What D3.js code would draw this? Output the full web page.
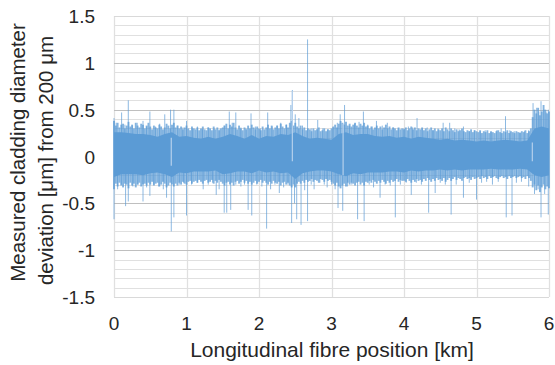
<!DOCTYPE html>
<html><head><meta charset="utf-8">
<script src="https://cdn.jsdelivr.net/npm/d3@7"></script>
<style>body{margin:0;background:#fff}svg{display:block}text{font-family:"Liberation Sans",Arial,sans-serif;fill:#262626}</style>
</head><body><svg id="c" width="555" height="365"></svg>
<script>
// ---- data ----
const xTicks = [0,1,2,3,4,5,6];
const xTickLabels = ["0","1","2","3","4","5","6"];
const yTicks = [-1.5,-1,-0.5,0,0.5,1,1.5];
const yTickLabels = ["-1.5","-1","-0.5","0","0.5","1","1.5"];
// dense core of the trace, one sample per 0.1 km
const bandStep = 0.1;
const bandHi = [0.26,0.26,0.25,0.24,0.24,0.23,0.21,0.24,0.26,0.21,0.22,0.20,0.19,0.21,0.19,0.21,0.24,0.22,0.19,0.23,0.19,0.22,0.21,0.24,0.23,0.26,0.22,0.19,0.20,0.19,0.18,0.24,0.26,0.23,0.24,0.24,0.22,0.21,0.22,0.20,0.21,0.19,0.21,0.20,0.19,0.18,0.19,0.17,0.18,0.17,0.16,0.17,0.16,0.17,0.18,0.17,0.16,0.17,0.30,0.32,0.30];
const bandLo = [-0.22,-0.19,-0.19,-0.19,-0.20,-0.18,-0.17,-0.19,-0.22,-0.17,-0.18,-0.16,-0.16,-0.16,-0.15,-0.19,-0.18,-0.16,-0.16,-0.18,-0.15,-0.17,-0.16,-0.18,-0.17,-0.24,-0.18,-0.16,-0.15,-0.15,-0.16,-0.19,-0.21,-0.18,-0.19,-0.17,-0.17,-0.17,-0.16,-0.16,-0.17,-0.15,-0.16,-0.15,-0.15,-0.14,-0.15,-0.14,-0.15,-0.14,-0.14,-0.14,-0.13,-0.14,-0.14,-0.14,-0.13,-0.14,-0.20,-0.22,-0.20];
// fuzzy fringe of the trace, one sample per 0.025 km
const fuzzStep = 0.025;
const fuzzHi = [0.38,0.33,0.36,0.31,0.34,0.35,0.30,0.33,0.37,0.32,0.34,0.30,0.36,0.33,0.31,0.35,0.34,0.30,0.33,0.36,
0.32,0.29,0.33,0.31,0.30,0.34,0.32,0.29,0.31,0.35,0.33,0.30,0.34,0.36,0.31,0.33,0.30,0.32,0.29,0.31,
0.33,0.30,0.28,0.32,0.30,0.29,0.31,0.28,0.30,0.32,0.29,0.28,0.31,0.30,0.28,0.32,0.29,0.31,0.28,0.30,
0.31,0.33,0.35,0.30,0.34,0.32,0.36,0.31,0.29,0.33,0.30,0.28,0.31,0.29,0.33,0.30,0.34,0.31,0.29,0.32,
0.30,0.28,0.32,0.29,0.31,0.34,0.30,0.33,0.29,0.31,0.33,0.30,0.35,0.32,0.30,0.34,0.31,0.36,0.38,0.33,
0.36,0.32,0.30,0.33,0.29,0.31,0.28,0.30,0.29,0.27,0.30,0.28,0.29,0.31,0.27,0.28,0.30,0.27,0.29,0.28,
0.30,0.32,0.34,0.31,0.35,0.38,0.36,0.34,0.37,0.33,0.35,0.32,0.34,0.36,0.33,0.31,0.35,0.33,0.36,0.32,
0.33,0.30,0.32,0.29,0.31,0.33,0.30,0.32,0.29,0.31,0.34,0.30,0.32,0.29,0.31,0.30,0.28,0.31,0.29,0.30,
0.29,0.31,0.28,0.30,0.32,0.29,0.31,0.28,0.30,0.29,0.31,0.28,0.30,0.27,0.29,0.31,0.28,0.30,0.27,0.29,
0.28,0.30,0.27,0.31,0.29,0.27,0.30,0.28,0.26,0.29,0.27,0.28,0.30,0.27,0.26,0.28,0.27,0.29,0.26,0.28,
0.27,0.26,0.28,0.25,0.27,0.26,0.28,0.25,0.27,0.26,0.25,0.27,0.28,0.26,0.25,0.27,0.26,0.28,0.25,0.27,
0.26,0.25,0.27,0.26,0.25,0.27,0.26,0.28,0.25,0.27,0.30,0.42,0.50,0.46,0.52,0.44,0.48,0.55,0.50,0.46,
0.48];
const fuzzLo = [-0.35,-0.29,-0.32,-0.28,-0.31,-0.33,-0.29,-0.30,-0.34,-0.28,-0.31,-0.29,-0.33,-0.30,-0.28,-0.32,-0.30,-0.29,-0.31,-0.28,
-0.30,-0.27,-0.31,-0.29,-0.28,-0.32,-0.30,-0.27,-0.29,-0.33,-0.31,-0.28,-0.30,-0.32,-0.29,-0.31,-0.28,-0.30,-0.27,-0.29,
-0.30,-0.27,-0.26,-0.29,-0.27,-0.26,-0.28,-0.25,-0.27,-0.29,-0.26,-0.25,-0.28,-0.27,-0.25,-0.29,-0.26,-0.28,-0.25,-0.27,
-0.29,-0.31,-0.28,-0.27,-0.30,-0.28,-0.31,-0.27,-0.26,-0.29,-0.27,-0.25,-0.28,-0.26,-0.29,-0.27,-0.30,-0.28,-0.26,-0.29,
-0.27,-0.25,-0.28,-0.26,-0.28,-0.30,-0.27,-0.29,-0.26,-0.28,-0.29,-0.27,-0.31,-0.28,-0.27,-0.30,-0.28,-0.31,-0.33,-0.30,
-0.33,-0.29,-0.27,-0.29,-0.26,-0.28,-0.25,-0.27,-0.26,-0.24,-0.27,-0.25,-0.26,-0.28,-0.24,-0.25,-0.27,-0.24,-0.26,-0.25,
-0.27,-0.29,-0.31,-0.28,-0.32,-0.34,-0.31,-0.29,-0.32,-0.28,-0.30,-0.28,-0.29,-0.31,-0.28,-0.27,-0.30,-0.28,-0.31,-0.27,
-0.28,-0.26,-0.28,-0.25,-0.27,-0.29,-0.26,-0.28,-0.25,-0.27,-0.29,-0.26,-0.28,-0.25,-0.27,-0.26,-0.24,-0.27,-0.25,-0.26,
-0.26,-0.27,-0.24,-0.26,-0.28,-0.25,-0.27,-0.24,-0.26,-0.25,-0.27,-0.24,-0.26,-0.23,-0.25,-0.27,-0.24,-0.26,-0.23,-0.25,
-0.24,-0.26,-0.23,-0.27,-0.25,-0.23,-0.26,-0.24,-0.22,-0.25,-0.23,-0.24,-0.26,-0.23,-0.22,-0.24,-0.23,-0.25,-0.22,-0.24,
-0.23,-0.22,-0.24,-0.21,-0.23,-0.22,-0.24,-0.21,-0.23,-0.22,-0.21,-0.23,-0.24,-0.22,-0.21,-0.23,-0.22,-0.24,-0.21,-0.23,
-0.22,-0.21,-0.23,-0.22,-0.21,-0.23,-0.22,-0.24,-0.21,-0.23,-0.26,-0.33,-0.30,-0.36,-0.31,-0.38,-0.33,-0.30,-0.35,-0.32,
-0.34];
const spikesUp = [[0.00,0.41],[0.03,0.36],[0.105,0.47],[0.15,0.34],[0.197,0.60],[0.25,0.33],[0.32,0.36],[0.40,0.38],[0.45,0.32],[0.495,0.48],[0.57,0.32],[0.63,0.35],[0.70,0.45],[0.78,0.50],[0.826,0.50],[0.88,0.33],[0.95,0.31],[1.0,0.38],[1.08,0.30],[1.15,0.32],[1.22,0.29],[1.30,0.31],[1.38,0.30],[1.45,0.29],[1.52,0.33],[1.59,0.48],[1.63,0.36],[1.68,0.47],[1.75,0.31],[1.82,0.30],[1.89,0.46],[1.95,0.32],[2.02,0.30],[2.12,0.47],[2.18,0.32],[2.25,0.33],[2.30,0.36],[2.38,0.34],[2.44,0.55],[2.46,0.71],[2.50,0.45],[2.55,0.41],[2.60,0.33],[2.67,1.25],[2.72,0.30],[2.81,0.39],[2.88,0.30],[2.95,0.29],[3.02,0.31],[3.08,0.36],[3.12,0.45],[3.18,0.55],[3.25,0.33],[3.32,0.35],[3.38,0.37],[3.44,0.48],[3.50,0.34],[3.56,0.32],[3.62,0.38],[3.70,0.33],[3.77,0.36],[3.85,0.31],[3.92,0.30],[4.00,0.30],[4.06,0.32],[4.12,0.31],[4.18,0.41],[4.25,0.30],[4.32,0.31],[4.40,0.28],[4.47,0.30],[4.54,0.36],[4.63,0.36],[4.70,0.30],[4.76,0.29],[4.82,0.32],[4.90,0.27],[4.97,0.28],[5.05,0.27],[5.12,0.28],[5.20,0.26],[5.28,0.28],[5.34,0.30],[5.40,0.43],[5.46,0.28],[5.52,0.27],[5.60,0.26],[5.66,0.27],[5.72,0.28],[5.78,0.57],[5.83,0.52],[5.86,0.48],[5.89,0.59],[5.93,0.50],[5.96,0.47],[5.99,0.50]];
const spikesDown = [[0.00,-0.67],[0.05,-0.35],[0.10,-0.30],[0.16,-0.53],[0.197,-0.48],[0.26,-0.32],[0.33,-0.30],[0.40,-0.48],[0.45,-0.33],[0.495,-0.42],[0.55,-0.30],[0.62,-0.32],[0.68,-0.35],[0.725,-0.44],[0.79,-0.80],[0.826,-0.65],[0.90,-0.30],[0.96,-0.28],[1.0,-0.63],[1.07,-0.30],[1.15,-0.28],[1.23,-0.35],[1.30,-0.30],[1.36,-0.28],[1.41,-0.41],[1.45,-0.35],[1.52,-0.60],[1.555,-0.60],[1.61,-0.57],[1.68,-0.30],[1.75,-0.32],[1.80,-0.30],[1.85,-0.57],[1.90,-0.63],[1.97,-0.30],[2.04,-0.32],[2.105,-0.77],[2.16,-0.35],[2.22,-0.30],[2.28,-0.39],[2.34,-0.33],[2.40,-0.30],[2.45,-0.71],[2.49,-0.50],[2.52,-0.67],[2.58,-0.73],[2.63,-0.36],[2.67,-0.69],[2.72,-0.30],[2.76,-0.35],[2.84,-0.28],[2.90,-0.30],[2.94,-0.33],[3.00,-0.30],[3.05,-0.35],[3.09,-0.55],[3.155,-0.58],[3.22,-0.32],[3.28,-0.30],[3.36,-0.67],[3.45,-0.69],[3.52,-0.30],[3.58,-0.33],[3.67,-0.44],[3.74,-0.30],[3.81,-0.31],[3.88,-0.65],[3.95,-0.30],[4.03,-0.28],[4.10,-0.41],[4.17,-0.28],[4.24,-0.30],[4.34,-0.60],[4.43,-0.39],[4.50,-0.28],[4.57,-0.30],[4.65,-0.62],[4.72,-0.30],[4.82,-0.44],[4.90,-0.28],[5.00,-0.46],[5.07,-0.28],[5.14,-0.27],[5.22,-0.30],[5.30,-0.27],[5.41,-0.65],[5.49,-0.63],[5.55,-0.28],[5.62,-0.27],[5.72,-0.32],[5.80,-0.40],[5.85,-0.35],[5.89,-0.65],[5.94,-0.40],[5.99,-0.62]];
// sparse (lighter) columns in the trace: [km, top, bottom]
const sparseCols = [[0.79,0.20,-0.10],[2.46,0.70,-0.05],[3.16,0.35,-0.20],[5.77,0.15,-0.05]];

// ---- layout ----
const svg = d3.select("#c");
const L = 114, R = 549, T = 16, B = 297;
const x = d3.scaleLinear().domain([0,6]).range([L,R]);
const y = d3.scaleLinear().domain([-1.5,1.5]).range([B,T]);
const blue = "#5b9bd5";

// grid
const g = svg.append("g");
const minor = d3.range(-15,16).map(i=>i/10);
g.selectAll("line.mn").data(minor.filter(v=>Math.abs(Math.round(v*10))%5!==0)).join("line")
  .attr("x1",L).attr("x2",R).attr("y1",d=>Math.round(y(d))+0.5).attr("y2",d=>Math.round(y(d))+0.5)
  .attr("stroke","#e0e0e0").attr("stroke-width",1);
g.selectAll("line.vx").data(xTicks).join("line")
  .attr("x1",d=>Math.round(x(d))+0.5).attr("x2",d=>Math.round(x(d))+0.5).attr("y1",T).attr("y2",B)
  .attr("stroke","#e0e0e0").attr("stroke-width",1.3);
g.selectAll("line.mj").data(yTicks).join("line")
  .attr("x1",L).attr("x2",R).attr("y1",d=>Math.round(y(d))+0.5).attr("y2",d=>Math.round(y(d))+0.5)
  .attr("stroke",d=>Math.abs(d)===1.5?"#d9d9d9":"#bfbfbf").attr("stroke-width",1.2);

// data
const plot = svg.append("g");
const allSpikes = spikesUp.concat(spikesDown);
plot.selectAll("line.sp").data(allSpikes).join("line")
  .attr("x1",d=>x(d[0])).attr("x2",d=>x(d[0])).attr("y1",y(0)).attr("y2",d=>y(d[1]))
  .attr("stroke",blue).attr("stroke-width",1).attr("stroke-opacity",0.7);
const fuzz = fuzzHi.map((h,i)=>({k:i*fuzzStep,h:h,l:fuzzLo[i]}));
plot.selectAll("line.fz").data(fuzz).join("line")
  .attr("x1",d=>x(d.k)).attr("x2",d=>x(d.k)).attr("y1",d=>y(d.l)).attr("y2",d=>y(d.h))
  .attr("stroke",blue).attr("stroke-width",1.9).attr("stroke-opacity",0.75);
const band = bandHi.map((h,i)=>({k:i*bandStep,h:h,l:bandLo[i]}));
plot.append("path").datum(band)
  .attr("d",d3.area().x(d=>x(d.k)).y0(d=>y(d.l)).y1(d=>y(d.h)).curve(d3.curveLinear))
  .attr("fill",blue);
plot.selectAll("line.gap").data(sparseCols).join("line")
  .attr("x1",d=>x(d[0])).attr("x2",d=>x(d[0])).attr("y1",d=>y(d[1])).attr("y2",d=>y(d[2]))
  .attr("stroke","#b5d0ec").attr("stroke-width",1.2);

// axes labels
const ax = svg.append("g");
ax.selectAll("text.xt").data(xTicks).join("text")
  .attr("x",d=>x(d)).attr("y",330).attr("text-anchor","middle").attr("font-size",19)
  .text((d,i)=>xTickLabels[i]);
ax.selectAll("text.yt").data(yTicks).join("text")
  .attr("x",95).attr("y",d=>y(d)+7).attr("text-anchor","end").attr("font-size",19)
  .text((d,i)=>yTickLabels[i]);
ax.append("text").attr("x",332).attr("y",357).attr("text-anchor","middle").attr("font-size",21)
  .text("Longitudinal fibre position [km]");
const yt = ax.append("text").attr("transform",`translate(25,${(T+B)/2}) rotate(-90)`)
  .attr("text-anchor","middle").attr("font-size",20.5);
yt.append("tspan").attr("x",4).attr("y",0).text("Measured cladding diameter");
yt.append("tspan").attr("x",-4).attr("y",28).text("deviation [μm] from 200 μm");
</script></body></html>
